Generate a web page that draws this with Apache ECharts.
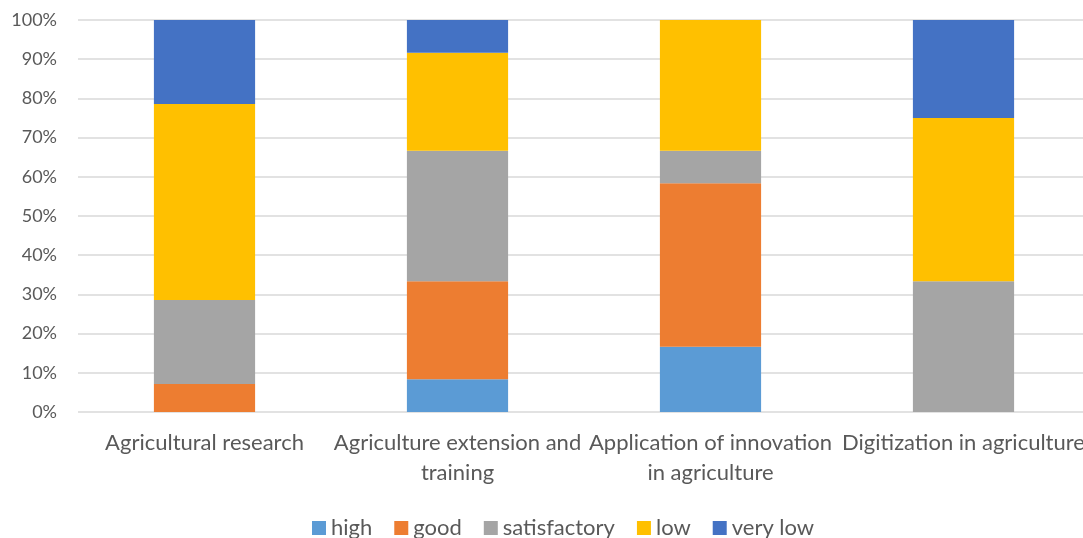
<!DOCTYPE html>
<html>
<head>
<meta charset="utf-8">
<script src="https://cdn.jsdelivr.net/npm/echarts@6/dist/echarts.min.js"></script>
<style>
  html, body { margin: 0; padding: 0; background: #fff; }
  #container { width: 1083px; height: 538px; }
</style>
</head>
<body>
<div id="container"></div>
<script>
var categories = ['Agricultural research', 'Agriculture extension and\ntraining', 'Application of innovation\nin agriculture', 'Digitization in agriculture'];
var seriesNames = ['high', 'good', 'satisfactory', 'low', 'very low'];
var colors = ['#5B9BD5', '#ED7D31', '#A5A5A5', '#FFC000', '#4472C4'];
// shares in %
var high = [0, 8.33, 16.67, 0];
var good = [7.14, 25, 41.67, 0];
var satisfactory = [21.43, 33.33, 8.33, 33.33];
var low = [50, 25, 33.33, 41.67];
var veryLow = [21.43, 8.33, 0, 25];
var yTicks = [0, 10, 20, 30, 40, 50, 60, 70, 80, 90, 100];

var values = [high, good, satisfactory, low, veryLow];
var series = [];
for (var i = 0; i < seriesNames.length; i++) {
  series.push({
    name: seriesNames[i],
    type: 'bar',
    stack: 'total',
    barWidth: '40%',
    itemStyle: { color: colors[i] },
    data: values[i]
  });
}

var chart = echarts.init(document.getElementById('container'));
chart.setOption({
  animation: false,
  textStyle: { fontFamily: 'Lato, "Open Sans", sans-serif' },
  grid: { left: 78, width: 1012, top: 20, height: 392, outerBoundsMode: 'none', containLabel: false },
  legend: {
    top: 512,
    left: 307,
    itemWidth: 14,
    itemHeight: 14,
    itemGap: 22,
    icon: 'rect',
    textStyle: { fontSize: 22, color: '#595959' },
    data: seriesNames
  },
  xAxis: {
    type: 'category',
    data: categories,
    axisLine: { show: false },
    axisTick: { show: false },
    axisLabel: { fontSize: 22, color: '#595959', lineHeight: 30, margin: 16, interval: 0 }
  },
  yAxis: {
    type: 'value',
    min: 0,
    max: 100,
    interval: 10,
    axisLine: { show: false },
    axisTick: { show: false },
    splitLine: { lineStyle: { color: '#D9D9D9', width: 1.5 } },
    axisLabel: {
      fontSize: 18, color: '#595959', margin: 21,
      formatter: function (v) { return yTicks.indexOf(v) >= 0 ? v + '%' : ''; }
    }
  },
  series: series
});
</script>
</body>
</html>
